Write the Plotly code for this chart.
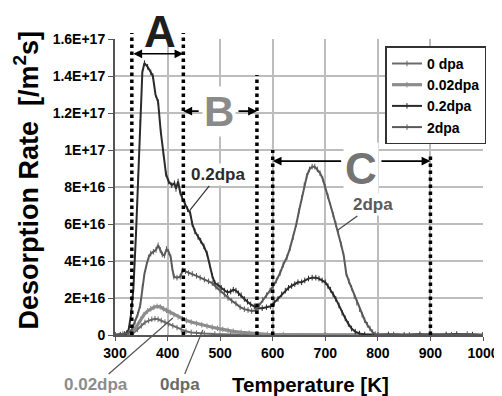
import plotly.graph_objects as go

# ---------------- data (values in units of 1E+16 /m2s) ----------------
t_02dpa = [300, 310, 318, 322, 326, 330, 335, 340, 344, 348, 352, 356, 362, 368, 372, 377,
           382, 387, 392, 397, 402, 408, 413, 416, 420, 424, 428, 433, 438, 443, 447, 452,
           458, 463, 469, 475, 480, 485, 490, 496, 502, 508, 514, 520, 525, 530, 535, 540,
           546, 552, 558, 565, 572, 580, 588, 596, 603, 610, 617, 624, 630, 636, 642, 648,
           655, 661, 668, 675, 682, 688, 694, 700, 705, 710, 715, 720, 726, 732, 738, 744,
           750, 757, 765, 775, 790, 820, 850, 880, 900, 930, 950, 980, 1000]
v_02dpa = [0.0, 0.02, 0.05, 0.1, 0.3, 1.0, 2.5, 5.5, 8.5, 11.5, 14.2, 14.7, 14.5, 14.2, 14.0, 13.0,
           12.6, 11.0, 9.8, 8.7, 8.3, 8.1, 8.2, 7.9, 8.3, 7.7, 7.4, 7.1, 6.8, 6.6, 6.0, 5.6,
           5.3, 5.1, 4.8, 4.4, 3.8, 3.2, 2.8, 2.7, 2.55, 2.4, 2.3, 2.35, 2.45, 2.4, 2.25, 2.15,
           1.95, 1.8, 1.65, 1.55, 1.45, 1.45, 1.5, 1.55, 1.75, 1.95, 2.2, 2.4, 2.55, 2.65, 2.75, 2.85,
           2.85, 2.95, 3.05, 3.1, 3.1, 3.05, 2.95, 2.85, 2.65, 2.45, 2.2, 1.95, 1.6, 1.2, 0.9, 0.6,
           0.35, 0.18, 0.08, 0.03, 0.0, 0.03, 0.0, 0.04, 0.0, 0.03, 0.05, 0.02, 0.0]

t_2dpa = [300, 315, 325, 332, 338, 343, 348, 352, 356, 360, 364, 368, 373, 378, 382, 386,
          390, 394, 398, 402, 406, 409, 412, 418, 424, 429, 434, 440, 447, 455, 462, 470,
          478, 485, 492, 500, 508, 515, 522, 530, 538, 546, 553, 560, 567, 574, 581, 588,
          595, 601, 607, 614, 620, 627, 633, 639, 645, 650, 655, 660, 665, 670, 675, 680,
          685, 690, 695, 700, 705, 710, 715, 720, 725, 730, 735, 740, 745, 750, 755, 760,
          765, 770, 775, 780, 785, 790, 795, 800, 830, 860, 900, 940, 970, 1000]
v_2dpa = [0.0, 0.05, 0.1, 0.3, 0.7, 1.1, 1.6, 2.6, 3.3, 3.8, 4.2, 4.4, 4.5, 4.6, 4.85, 4.6,
          4.35, 4.3, 4.65, 4.5, 4.2, 3.6, 3.15, 3.1, 3.15, 3.5, 3.45, 3.35, 3.3, 3.2, 3.1, 3.0,
          2.9, 2.8, 2.6, 2.4, 2.2, 2.0, 1.85, 1.7, 1.5, 1.4, 1.35, 1.3, 1.32, 1.6, 1.9, 2.15,
          2.4, 2.65, 2.95, 3.35, 3.8, 4.2, 4.7, 5.3, 6.0, 6.7, 7.4, 8.1, 8.6, 8.95, 9.1, 9.1,
          8.95, 8.75, 8.45, 8.0, 7.5, 7.0, 6.5, 6.0, 5.5, 4.9, 4.3, 3.3, 2.9, 2.55, 2.1, 1.75,
          1.4, 1.1, 0.8, 0.55, 0.35, 0.15, 0.05, 0.0, 0.03, 0.0, 0.04, 0.02, 0.05, 0.0]

t_002dpa = [300, 320, 330, 337, 343, 349, 355, 362, 368, 374, 380, 386, 392, 398, 405, 412,
            420, 428, 436, 445, 455, 465, 475, 485, 495, 505, 515, 525, 540, 555, 570, 590,
            620, 700, 800, 900, 1000]
v_002dpa = [0.0, 0.02, 0.1, 0.3, 0.55, 0.85, 1.1, 1.3, 1.42, 1.5, 1.55, 1.52, 1.42, 1.33, 1.22, 1.1,
            0.98, 0.88, 0.78, 0.7, 0.62, 0.55, 0.48, 0.42, 0.36, 0.3, 0.25, 0.2, 0.14, 0.1, 0.06, 0.04,
            0.02, 0.01, 0.0, 0.01, 0.0]

t_0dpa = [300, 325, 335, 343, 350, 357, 364, 370, 376, 382, 388, 395, 402, 410, 418, 426,
          435, 445, 455, 470, 490, 520, 600, 700, 800, 900, 1000]
v_0dpa = [0.0, 0.02, 0.1, 0.3, 0.5, 0.68, 0.78, 0.85, 0.88, 0.85, 0.78, 0.7, 0.6, 0.5, 0.4, 0.3,
          0.2, 0.14, 0.1, 0.08, 0.05, 0.03, 0.02, 0.01, 0.0, 0.01, 0.0]

UNIT = 1e16

series_names = ["0 dpa", "0.02dpa", "0.2dpa", "2dpa"]
series_t = [t_0dpa, t_002dpa, t_02dpa, t_2dpa]
series_v = [v_0dpa, v_002dpa, v_02dpa, v_2dpa]
series_colors = ["#6a6a6a", "#8c8c8c", "#2b2b2b", "#5a5a5a"]
series_widths = [2, 3.2, 2, 2]

x_ticks = [300, 400, 500, 600, 700, 800, 900, 1000]
y_tickvals = [0, 2, 4, 6, 8, 10, 12, 14, 16]
y_ticktext = ["0", "2E+16", "4E+16", "6E+16", "8E+16", "1E+17", "1.2E+17", "1.4E+17", "1.6E+17"]

# desorption stage boundaries [K]
stage_bounds = [332, 430, 570, 600, 900]

FONT = "Arial, 'Liberation Sans', Helvetica, sans-serif"
HEAVY = "'Arial Black', Arial, 'Liberation Sans', sans-serif"

fig = go.Figure()
for name, t, v, c, w in zip(series_names, series_t, series_v, series_colors, series_widths):
    fig.add_trace(go.Scatter(
        x=t, y=[val * UNIT for val in v], name=name, legendgroup=name,
        mode="lines+markers",
        line=dict(color=c, width=w),
        marker=dict(symbol="line-ns", size=4, line=dict(width=1, color=c), color=c),
    ))

# dotted stage boundaries
tops = [1.02, 1.02, 0.878, 0.625, 0.608]
for xb, top in zip(stage_bounds, tops):
    fig.add_shape(type="line", xref="x", yref="paper", x0=xb, x1=xb, y0=0, y1=top,
                  line=dict(color="black", width=3.5, dash="dot"), layer="above")

ann = []
arrow_kw = dict(showarrow=True, arrowcolor="black", arrowwidth=1.6, arrowsize=1.1,
                axref="x", ayref="y", xref="x", yref="y", text="")
# A double arrow
ann.append(dict(x=stage_bounds[1], y=15.2 * UNIT, ax=stage_bounds[0], ay=15.2 * UNIT,
                arrowhead=2, startarrowhead=2, arrowside="end+start", startarrowsize=1.1, **arrow_kw))
# B arrows
ann.append(dict(x=stage_bounds[1], y=12.1 * UNIT, ax=462, ay=12.1 * UNIT, arrowhead=2, **arrow_kw))
ann.append(dict(x=stage_bounds[2], y=12.1 * UNIT, ax=532, ay=12.1 * UNIT, arrowhead=2, **arrow_kw))
# C arrows
ann.append(dict(x=stage_bounds[3], y=9.4 * UNIT, ax=733, ay=9.4 * UNIT, arrowhead=2, **arrow_kw))
ann.append(dict(x=stage_bounds[4], y=9.4 * UNIT, ax=804, ay=9.4 * UNIT, arrowhead=2, **arrow_kw))

# stage letters
ann.append(dict(x=385, y=1.025, xref="x", yref="paper", xanchor="center", yanchor="middle",
                text="<b>A</b>", showarrow=False,
                font=dict(size=44, color="#1e1e1e", family=HEAVY)))
ann.append(dict(x=498, y=12.1 * UNIT, xref="x", yref="y", xanchor="center", yanchor="middle",
                text="<b>B</b>", showarrow=False, bgcolor="white",
                font=dict(size=42, color="#8a8a8a", family=HEAVY)))
ann.append(dict(x=768, y=9.0 * UNIT, xref="x", yref="y", xanchor="center", yanchor="middle",
                text="<b>C</b>", showarrow=False, bgcolor="white",
                font=dict(size=44, color="#747474", family=HEAVY)))

# curve labels with leader lines
lab_kw = dict(xref="x", yref="y", axref="x", ayref="y", showarrow=True, arrowhead=0,
              arrowwidth=1.2)
ann.append(dict(x=443, y=6.76 * UNIT, ax=496, ay=8.65 * UNIT, text="<b>0.2dpa</b>",
                arrowcolor="#333", bgcolor="white", font=dict(size=17, color="#2b2b2b", family=FONT), **lab_kw))
ann.append(dict(x=724, y=5.68 * UNIT, ax=790, ay=7.03 * UNIT, text="<b>2dpa</b>",
                arrowcolor="#444", bgcolor="white", font=dict(size=17, color="#5a5a5a", family=FONT), **lab_kw))
ann.append(dict(x=410, y=0.92 * UNIT, ax=264, ay=-2.7 * UNIT, text="<b>0.02dpa</b>",
                arrowcolor="#555", font=dict(size=17, color="#8c8c8c", family=FONT), **lab_kw))
ann.append(dict(x=467, y=0.27 * UNIT, ax=424, ay=-2.7 * UNIT, text="<b>0dpa</b>",
                arrowcolor="#555", font=dict(size=17, color="#6a6a6a", family=FONT), **lab_kw))

# axis titles
ann.append(dict(xref="paper", yref="paper", x=-0.242, y=0.525, xanchor="center", yanchor="middle",
                textangle=-90, showarrow=False,
                text="<b>Desorption Rate\u00a0\u00a0[/m<sup>2</sup>s]</b>",
                font=dict(size=27, color="black", family=FONT)))
ann.append(dict(xref="paper", yref="paper", x=0.53, y=-0.167, xanchor="center", yanchor="middle",
                showarrow=False,
                text="<b>Temperature [K]</b>", font=dict(size=20.5, color="black", family=FONT)))

# figure is drawn inside the page's 8px body margin
fig.update_layout(
    width=494, height=388,
    margin=dict(l=107, r=19, t=31, b=61, autoexpand=False),
    paper_bgcolor="white", plot_bgcolor="white",
    font=dict(family=FONT, color="black"),
    showlegend=True,
    legend=dict(x=0.735, y=0.975, xanchor="left", yanchor="top",
                bgcolor="white", bordercolor="#333", borderwidth=1.5,
                font=dict(size=14, color="black", family=FONT, weight="bold"),
                itemwidth=30, tracegroupgap=7, traceorder="normal"),
    annotations=ann,
)
fig.update_xaxes(range=[300, 1000], tickvals=x_ticks, showgrid=True, gridcolor="#bdbdbd",
                 gridwidth=1.5, showline=True, linecolor="#555", linewidth=2, zeroline=False,
                 ticks="outside", ticklen=4, tickcolor="#555", automargin=False,
                 tickfont=dict(size=14, color="black", family=FONT, weight="bold"))
fig.update_yaxes(range=[0, 16 * UNIT], tickvals=[v * UNIT for v in y_tickvals], ticktext=y_ticktext,
                 showgrid=True, gridcolor="#bdbdbd", gridwidth=1.5, showline=True,
                 linecolor="#555", linewidth=2, zeroline=False, ticks="outside", ticklen=5,
                 tickcolor="#555", automargin=False,
                 tickfont=dict(size=14, color="black", family=FONT, weight="bold"))

fig.write_html("out.html")
